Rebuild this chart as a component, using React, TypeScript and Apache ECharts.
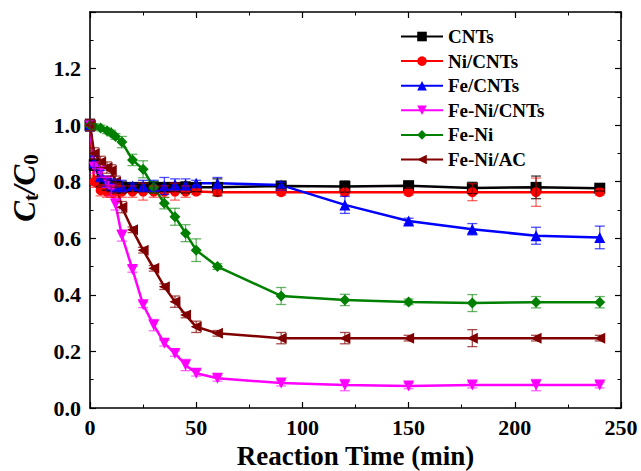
import React, { useEffect, useRef } from "react";
import * as echarts from "echarts";

const times = [0, 2, 5, 8, 10, 12, 15, 20, 25, 30, 35, 40, 45, 50, 60, 90, 120, 150, 180, 210, 240];
const seriesNames = ["CNTs", "Ni/CNTs", "Fe/CNTs", "Fe-Ni/CNTs", "Fe-Ni", "Fe-Ni/AC"];

const cntsValues = [1.0, 0.86, 0.8, 0.79, 0.785, 0.78, 0.78, 0.78, 0.78, 0.78, 0.78, 0.78, 0.78, 0.78, 0.78, 0.785, 0.783, 0.786, 0.778, 0.78, 0.777];
const niCntsValues = [1.0, 0.8, 0.77, 0.765, 0.765, 0.765, 0.765, 0.765, 0.765, 0.765, 0.765, 0.765, 0.765, 0.765, 0.763, 0.763, 0.763, 0.763, 0.763, 0.763, 0.763];
const feCntsValues = [1.0, 0.87, 0.82, 0.8, 0.79, 0.785, 0.785, 0.785, 0.785, 0.785, 0.785, 0.79, 0.79, 0.795, 0.795, 0.788, 0.718, 0.661, 0.632, 0.609, 0.603];
const feNiCntsValues = [1.0, 0.85, 0.835, 0.8, 0.77, 0.72, 0.61, 0.49, 0.365, 0.293, 0.229, 0.193, 0.152, 0.123, 0.105, 0.088, 0.081, 0.078, 0.081, 0.081, 0.081];
const feNiValues = [1.0, 0.995, 0.99, 0.98, 0.972, 0.96, 0.94, 0.877, 0.844, 0.78, 0.724, 0.676, 0.618, 0.558, 0.5, 0.396, 0.382, 0.375, 0.371, 0.374, 0.374];
const feNiAcValues = [1.0, 0.9, 0.87, 0.85, 0.84, 0.8, 0.71, 0.63, 0.558, 0.494, 0.429, 0.376, 0.329, 0.287, 0.264, 0.247, 0.247, 0.247, 0.247, 0.247, 0.247];

const cntsErrors = [0.02, 0.02, 0.02, 0.02, 0.02, 0.02, 0.02, 0.015, 0.015, 0.02, 0.015, 0.015, 0.02, 0.015, 0.03, 0.01, 0.02, 0.01, 0.02, 0.04, 0.01];
const niCntsErrors = [0.02, 0.02, 0.02, 0.02, 0.02, 0.02, 0.02, 0.02, 0.03, 0.02, 0.02, 0.03, 0.02, 0.01, 0.01, 0.01, 0.01, 0.01, 0.03, 0.05, 0.01];
const feCntsErrors = [0.02, 0.02, 0.02, 0.02, 0.02, 0.02, 0.02, 0.01, 0.02, 0.02, 0.03, 0.02, 0.02, 0.01, 0.02, 0.01, 0.03, 0.01, 0.02, 0.03, 0.04];
const feNiCntsErrors = [0.02, 0.02, 0.02, 0.02, 0.02, 0.02, 0.02, 0.01, 0.01, 0.02, 0.01, 0.01, 0.02, 0.01, 0.01, 0.01, 0.02, 0.01, 0.01, 0.02, 0.01];
const feNiErrors = [0.02, 0.01, 0.01, 0.01, 0.01, 0.01, 0.02, 0.02, 0.03, 0.02, 0.02, 0.03, 0.03, 0.04, 0.01, 0.03, 0.02, 0.01, 0.03, 0.02, 0.02];
const feNiAcErrors = [0.02, 0.02, 0.02, 0.02, 0.02, 0.02, 0.02, 0.01, 0.01, 0.01, 0.01, 0.02, 0.01, 0.02, 0.01, 0.02, 0.02, 0.01, 0.03, 0.01, 0.01];

const allValues = [cntsValues, niCntsValues, feCntsValues, feNiCntsValues, feNiValues, feNiAcValues];
const allErrors = [cntsErrors, niCntsErrors, feCntsErrors, feNiCntsErrors, feNiErrors, feNiAcErrors];
const colors = ["#000000", "#ff0000", "#0000ff", "#ff00ff", "#008000", "#800000"];
const errColors = ["rgba(0,0,0,0.75)", "rgba(255,0,0,0.6)", "rgba(0,0,255,0.7)", "rgba(255,0,255,0.6)", "rgba(0,128,0,0.6)", "rgba(128,0,0,0.7)"];
const symbols = ["rect", "circle", "triangle", "triangle", "diamond", "triangle"];
const rotations = [0, 0, 0, 180, 0, 90];

const xTicksMax = 250;
const yTicksMax = 1.4;

const FONT = "Liberation Serif";

export default function App() {
  const ref = useRef<HTMLDivElement>(null);
  useEffect(() => {
    document.body.style.margin = "0";
    if (!ref.current) return;
    const chart = echarts.init(ref.current, undefined, { renderer: "svg" });

    const lineSeries = seriesNames.map((name, i) => ({
      name,
      type: "line",
      data: times.map((t, k) => [t, allValues[i][k]]),
      symbol: symbols[i],
      symbolSize: i === 1 ? 10 : 11,
      symbolRotate: rotations[i],
      showSymbol: true,
      lineStyle: { color: colors[i], width: 2.5 },
      itemStyle: { color: colors[i] },
      z: 2,
    }));

    const errSeries = seriesNames.map((name, i) => ({
      name: name + "-err",
      type: "custom",
      data: times.map((t, k) => [t, allValues[i][k] - allErrors[i][k], allValues[i][k] + allErrors[i][k]]),
      renderItem: (params: any, api: any) => {
        const x = api.value(0);
        const lo = api.coord([x, api.value(1)]);
        const hi = api.coord([x, api.value(2)]);
        const hw = 5;
        const style = { stroke: errColors[i], lineWidth: 1.3 };
        return {
          type: "group",
          children: [
            { type: "line", shape: { x1: lo[0], y1: lo[1], x2: hi[0], y2: hi[1] }, style },
            { type: "line", shape: { x1: lo[0] - hw, y1: lo[1], x2: lo[0] + hw, y2: lo[1] }, style },
            { type: "line", shape: { x1: hi[0] - hw, y1: hi[1], x2: hi[0] + hw, y2: hi[1] }, style },
          ],
        };
      },
      z: 3,
      silent: true,
    }));

    const axisCommon = {
      type: "value",
      axisLine: { show: true, onZero: false, lineStyle: { color: "#000", width: 1.6 } },
      axisTick: { show: true, inside: true, length: 6, lineStyle: { color: "#000", width: 1.2 } },
      minorTick: { show: true, splitNumber: 2, length: 3.5, lineStyle: { color: "#000", width: 1 } },
      splitLine: { show: false },
      minorSplitLine: { show: false },
    };

    chart.setOption({
      animation: false,
      textStyle: { fontFamily: FONT },
      grid: { left: 90, top: 12, right: 20, bottom: 63, containLabel: false, outerBoundsMode: "none" },
      legend: {
        data: seriesNames,
        orient: "vertical",
        left: 400,
        top: 27,
        padding: 0,
        itemWidth: 42,
        itemHeight: 12,
        itemGap: 5.6,
        textStyle: { fontFamily: FONT, fontWeight: "bold", fontSize: 19, lineHeight: 18, color: "#000" },
      },
      xAxis: [
        {
          ...axisCommon,
          position: "bottom",
          min: 0,
          max: xTicksMax,
          interval: 50,
          axisLabel: { fontFamily: FONT, fontWeight: "bold", fontSize: 22, color: "#000", margin: 8 },
          name: "Reaction Time (min)",
          nameLocation: "middle",
          nameGap: 34,
          nameTextStyle: { fontFamily: FONT, fontWeight: "bold", fontSize: 27, lineHeight: 27, color: "#000" },
        },
        {
          ...axisCommon,
          position: "top",
          min: 0,
          max: xTicksMax,
          interval: 50,
          axisLabel: { show: false },
        },
      ],
      yAxis: [
        {
          ...axisCommon,
          position: "left",
          min: 0,
          max: yTicksMax,
          interval: 0.2,
          axisLabel: {
            fontFamily: FONT,
            fontWeight: "bold",
            fontSize: 22,
            color: "#000",
            margin: 9,
            formatter: (v: number) => (v > 1.3 ? "" : v.toFixed(1)),
          },
        },
        {
          ...axisCommon,
          position: "right",
          min: 0,
          max: yTicksMax,
          interval: 0.2,
          axisLabel: { show: false },
        },
      ],
      graphic: [
        {
          type: "text",
          x: 24,
          y: 188,
          rotation: Math.PI / 2,
          style: {
            text: "{c|C}{s|t}{c|/C}{s|0}",
            align: "center",
            verticalAlign: "middle",
            rich: {
              c: { fontFamily: FONT, fontWeight: "bold", fontStyle: "italic", fontSize: 31, fill: "#000" },
              s: { fontFamily: FONT, fontWeight: "bold", fontSize: 21, fill: "#000", padding: [14, 0, 0, 0] },
            },
          },
        },
      ],
      series: [...lineSeries, ...errSeries],
    });

    return () => chart.dispose();
  }, []);
  return <div ref={ref} style={{ width: 641, height: 471 }} />;
}
